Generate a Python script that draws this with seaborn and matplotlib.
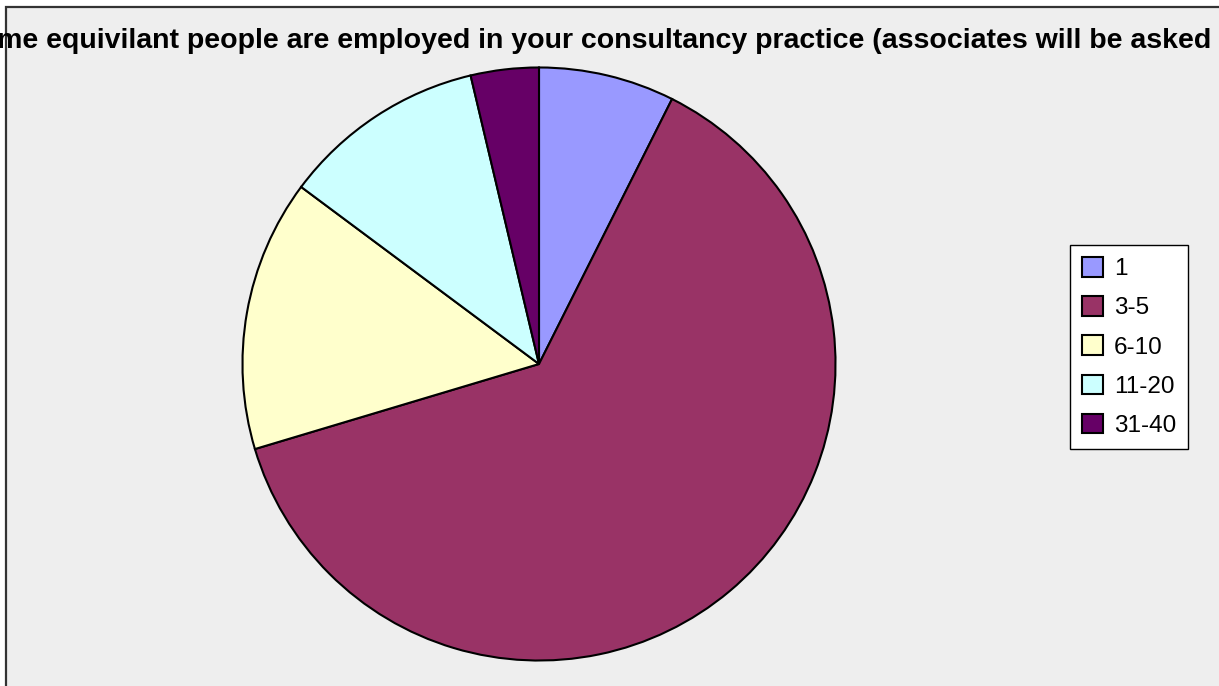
import matplotlib
matplotlib.use("Agg")
import matplotlib.pyplot as plt
import matplotlib.patches as mpatches
import seaborn as sns

categories = ["1", "3-5", "6-10", "11-20", "31-40"]
counts = [2, 17, 4, 3, 1]
colors = ["#9999FF", "#993366", "#FFFFCC", "#CCFFFF", "#660066"]
title = ("How many full time equivilant people are employed in your consultancy "
         "practice (associates will be asked later)?")
title_tail = ("me equivilant people are employed in your consultancy "
              "practice (associates will be asked later)?")

sns.set_style("white")
plt.rcParams["font.family"] = ["Liberation Sans", "DejaVu Sans"]
palette = sns.color_palette(colors)

W, H = 1219, 686
fig = plt.figure(figsize=(W / 100, H / 100), dpi=100)
fig.patch.set_facecolor("white")

# chart area background with its frame
bg = mpatches.Rectangle((6 / W, -0.05), 1.1, (H - 7) / H + 0.05,
                        transform=fig.transFigure, facecolor="#EEEEEE",
                        edgecolor="#333333", linewidth=1.6, zorder=-10)
fig.patches.append(bg)

# pie
cx, cy, r = 539, 364, 298
ax = fig.add_axes([(cx - r) / W, (H - cy - r) / H, 2 * r / W, 2 * r / H])
ax.set_zorder(5)
ax.set_facecolor("none")
wedges, _ = ax.pie(counts, colors=palette, startangle=90, counterclock=False,
                   wedgeprops=dict(edgecolor="black", linewidth=1.5))
ax.set_xlim(-1.005, 1.005)
ax.set_ylim(-1.005, 1.005)
ax.set_aspect("equal")
ax.axis("off")

# title, its start runs off the left edge of the canvas
tfont = dict(fontsize=20.5, fontweight="bold", color="black")
renderer = fig.canvas.get_renderer()
probe_tail = fig.text(0.5, 0.5, title_tail, **tfont)
tail_w = probe_tail.get_window_extent(renderer).width
probe_tail.remove()
tail_left = -3
fig.text((tail_left + tail_w) / W, (H - 48) / H, title, ha="right", va="baseline",
         zorder=6, **tfont)

# legend
handles = [mpatches.Patch(facecolor=c, edgecolor="black", linewidth=1.5) for c in palette]
leg = fig.legend(handles, categories, loc="upper left",
                 bbox_to_anchor=(1070 / W, 1 - 245 / H),
                 frameon=True, fancybox=False, fontsize=17.5, labelcolor="black",
                 handlelength=0.85, handleheight=0.85, handletextpad=0.45,
                 labelspacing=0.66, borderpad=0.5, borderaxespad=0)
leg.set_zorder(7)
leg.get_frame().set_edgecolor("black")
leg.get_frame().set_linewidth(1.0)
leg.get_frame().set_facecolor("white")
leg.get_frame().set_alpha(1.0)

fig.savefig("out.png", dpi=100)
